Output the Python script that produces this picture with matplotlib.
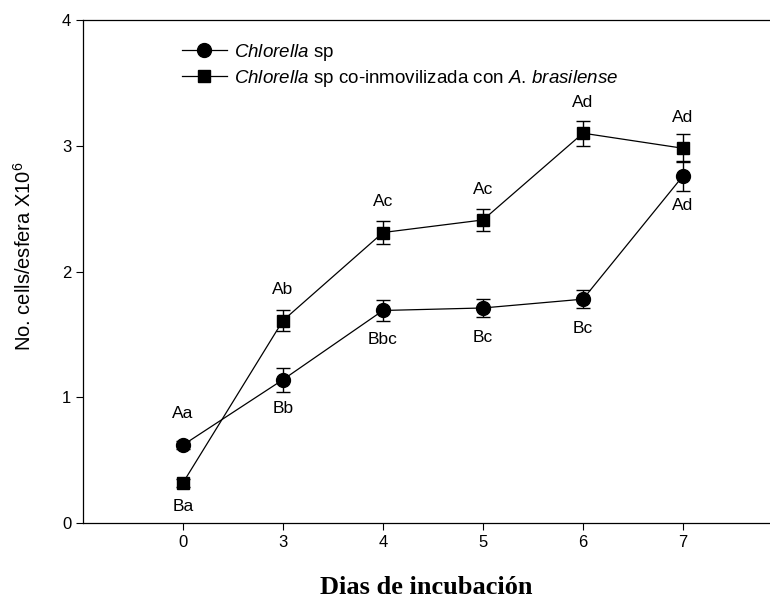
import matplotlib.pyplot as plt
import numpy as np

dias = ["0", "3", "4", "5", "6", "7"]

chlorella = [0.62, 1.14, 1.69, 1.71, 1.78, 2.76]
chlorella_err = [0.03, 0.095, 0.08, 0.07, 0.07, 0.12]
chlorella_letras = ["Aa", "Bb", "Bbc", "Bc", "Bc", "Ad"]
chlorella_arriba = [True, False, False, False, False, False]

coinmov = [0.32, 1.61, 2.31, 2.41, 3.10, 2.98]
coinmov_err = [0.03, 0.08, 0.09, 0.09, 0.10, 0.11]
coinmov_letras = ["Ba", "Ab", "Ac", "Ac", "Ad", "Ad"]
coinmov_arriba = [False, True, True, True, True, True]

plt.rcParams['font.family'] = ['Liberation Sans', 'DejaVu Sans']
plt.rcParams['mathtext.fontset'] = 'custom'
plt.rcParams['mathtext.rm'] = 'Liberation Sans'
plt.rcParams['mathtext.it'] = 'Liberation Sans:italic'

fig = plt.figure(figsize=(7.7, 6), dpi=100)
ax = fig.add_axes([83/770, 1 - 523/600, 1 - 83/770, (523 - 20)/600])

x = np.arange(len(dias))

c1 = ax.errorbar(x, chlorella, yerr=chlorella_err, fmt='-o', color='black', lw=0.9,
                 ms=10, capsize=5, elinewidth=1, capthick=1)
c2 = ax.errorbar(x, coinmov, yerr=coinmov_err, fmt='-s', color='black', lw=0.9,
                 ms=9, capsize=5, elinewidth=1, capthick=1)

for xi, yi, t, up in zip(x, chlorella, chlorella_letras, chlorella_arriba):
    ax.annotate(t, (xi, yi), xytext=(0, 23 if up else -21), textcoords='offset points',
                ha='center', va='center', fontsize=12.5)
for xi, yi, t, up in zip(x, coinmov, coinmov_letras, coinmov_arriba):
    ax.annotate(t, (xi, yi), xytext=(0, 22 if up else -17), textcoords='offset points',
                ha='center', va='center', fontsize=12.5)

ax.set_xlim(-1, 5.87)
ax.set_ylim(0, 4)
ax.set_xticks(x)
ax.set_xticklabels(dias)
ax.set_yticks([0, 1, 2, 3, 4])
ax.tick_params(direction='out', labelsize=12, length=5, width=0.8)
ax.spines['right'].set_visible(False)
for s in ['left', 'bottom', 'top']:
    ax.spines[s].set_linewidth(0.9)

ax.set_ylabel(r"No. cells/esfera X10$^6$", fontsize=14.5)
ax.yaxis.set_label_coords(-(83 - 35) / 687, 0.53)
ax.set_xlabel("Dias de incubación", fontsize=19, fontweight='bold',
              family='Liberation Serif')
ax.xaxis.set_label_coords(0.5, -(576 - 523) / 503)

ax.legend([c1.lines[0], c2.lines[0]],
          [r"$\it{Chlorella}$ sp",
           r"$\it{Chlorella}$ sp co-inmovilizada con $\it{A.\,brasilense}$"],
          loc='upper left', bbox_to_anchor=(0.13, 0.975), frameon=False,
          fontsize=13.5, handlelength=2.4, borderpad=0, labelspacing=0.25,
          handletextpad=0.4)

fig.savefig("out.png", dpi=100)
